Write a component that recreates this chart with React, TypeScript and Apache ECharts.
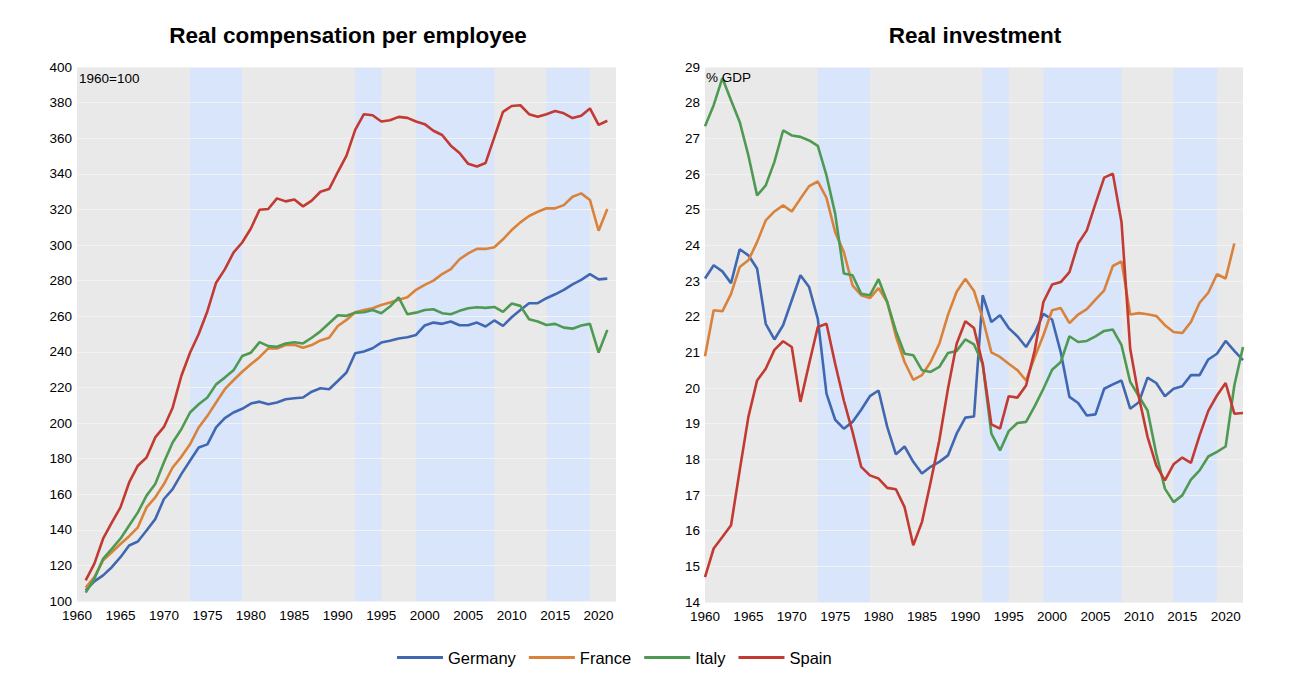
import { useEffect, useRef } from "react";
import * as echarts from "echarts";

// labels and colours
const countries = ["Germany", "France", "Italy", "Spain"];
const colors = ["#4068b2", "#d9823b", "#4f9a52", "#c23a31"];

// shaded periods (years)
const bands = [
    [1973, 1979],
    [1992, 1995],
    [1999, 2008],
    [2014, 2019],
];

// Real compensation per employee, 1960=100, from 1961 to 2021
const compStart = 1961;
const compGermany = [
    106, 111, 114.4, 119, 124.6, 131.2, 133.4, 139.6, 146, 157.3, 162.9, 171.3, 178.8, 186.2, 188, 197.5,
    202.7, 205.9, 208, 210.9, 212, 210.5, 211.5, 213.3, 213.9, 214.3, 217.6, 219.5, 219, 223.6, 228.4,
    239.2, 240.2, 242, 245.2, 246.2, 247.5, 248.2, 249.5, 254.8, 256.4, 255.7, 257, 254.9, 254.9, 256.4,
    254.2, 257.6, 254.6, 259.4, 263.5, 267.3, 267.3, 270.1, 272.3, 274.8, 277.9, 280.4, 283.6, 280.7, 281.1,
];
const compFrance = [
    107.5, 113.4, 122.8, 127.4, 132, 136.4, 141.4, 152.6, 158.2, 165.7, 175, 181, 188, 197.5, 204, 211.5,
    219, 224, 228.8, 233, 237, 241.9, 241.9, 243.8, 244, 242.3, 243.8, 246.4, 247.9, 254.5, 257.9, 262.2,
    263.5, 264.5, 266.3, 267.7, 269.2, 270.6, 274.8, 277.6, 280, 283.7, 286.4, 292, 295.3, 297.8, 297.8,
    298.7, 303.2, 308.4, 312.7, 316.3, 318.7, 320.6, 320.6, 322.4, 327.1, 329, 325.3, 308, 320.2,
];
const compItaly = [
    104.7, 112.5, 123.7, 129.3, 135, 142.4, 149.8, 159.2, 165.7, 177.9, 189, 196.5, 205.9, 210.5, 214.3,
    221.7, 225.5, 229.6, 237.6, 239.5, 245.4, 243.2, 242.8, 244.7, 245.4, 244.7, 247.9, 251.5, 256, 260.5,
    260.2, 262, 262.2, 263.5, 261.7, 265.4, 270.6, 261.1, 262, 263.5, 263.9, 261.7, 261.1, 263, 264.5, 265,
    264.7, 265.2, 262.4, 267.1, 265.8, 258.3, 257, 255.1, 255.7, 253.6, 253, 254.8, 255.7, 239.6, 252.3,
];
const compSpain = [
    111.6, 121, 135, 144, 152.6, 166.6, 176, 180.6, 191.9, 197.8, 208.6, 226.4, 239.5, 250, 262.8, 278.8,
    286.3, 295.7, 301.4, 309.3, 319.8, 320.2, 326.2, 324.5, 325.6, 321.7, 324.9, 329.9, 331.4, 341, 350.2,
    364.7, 373.5, 372.9, 369.4, 370.1, 372, 371.4, 369.4, 367.9, 364.2, 361.8, 355.8, 351.7, 345.6, 344.1,
    346.1, 360.5, 374.8, 378.1, 378.5, 373.5, 372, 373.5, 375.3, 374, 371.3, 372.6, 376.7, 367.5, 369.8,
];

// Real investment, % GDP, from 1960 (France to 2021, others to 2022)
const invStart = 1960;
const invGermany = [
    23.07, 23.44, 23.27, 22.94, 23.89, 23.72, 23.35, 21.8, 21.36, 21.76, 22.46, 23.16, 22.83, 21.94, 19.84,
    19.11, 18.86, 19.05, 19.39, 19.77, 19.93, 18.91, 18.14, 18.36, 17.93, 17.6, 17.79, 17.93, 18.11, 18.72,
    19.17, 19.2, 22.6, 21.85, 22.04, 21.68, 21.45, 21.15, 21.55, 22.08, 21.92, 21.0, 19.75, 19.58, 19.23,
    19.26, 19.98, 20.1, 20.21, 19.42, 19.6, 20.29, 20.14, 19.77, 19.98, 20.05, 20.36, 20.36, 20.8, 20.96,
    21.32, 21.04, 20.78,
];
const invFrance = [
    20.89, 22.18, 22.15, 22.64, 23.39, 23.58, 24.09, 24.7, 24.95, 25.12, 24.95, 25.31, 25.66, 25.79, 25.33,
    24.37, 23.81, 22.88, 22.6, 22.52, 22.8, 22.41, 21.45, 20.73, 20.23, 20.36, 20.73, 21.24, 22.05, 22.7,
    23.06, 22.72, 21.95, 21.0, 20.87, 20.68, 20.5, 20.21, 20.87, 21.48, 22.18, 22.24, 21.82, 22.06, 22.21,
    22.48, 22.74, 23.42, 23.55, 22.06, 22.1, 22.07, 22.02, 21.76, 21.57, 21.54, 21.85, 22.39, 22.67, 23.19,
    23.07, 24.05,
];
const invItaly = [
    27.34, 27.93, 28.69, 28.07, 27.46, 26.52, 25.4, 25.68, 26.34, 27.22, 27.08, 27.04, 26.94, 26.79, 25.96,
    24.89, 23.21, 23.16, 22.64, 22.6, 23.05, 22.41, 21.6, 20.96, 20.92, 20.5, 20.45, 20.59, 20.98, 21.04,
    21.36, 21.22, 20.68, 18.72, 18.25, 18.79, 19.02, 19.05, 19.49, 19.98, 20.51, 20.73, 21.45, 21.29, 21.32,
    21.45, 21.6, 21.64, 21.2, 20.17, 19.77, 19.37, 18.16, 17.18, 16.8, 16.99, 17.43, 17.69, 18.08, 18.21,
    18.36, 20.07, 21.15,
];
const invSpain = [
    14.7, 15.5, 15.82, 16.15, 17.69, 19.19, 20.21, 20.54, 21.07, 21.31, 21.15, 19.61, 20.68, 21.71, 21.8,
    20.68, 19.65, 18.77, 17.79, 17.55, 17.46, 17.2, 17.16, 16.66, 15.59, 16.24, 17.36, 18.53, 19.98, 21.24,
    21.87, 21.68, 20.68, 18.98, 18.86, 19.77, 19.73, 20.07, 21.06, 22.41, 22.9, 22.97, 23.25, 24.05, 24.42,
    25.17, 25.9, 26.01, 24.65, 21.1, 19.75, 18.63, 17.83, 17.41, 17.86, 18.05, 17.9, 18.67, 19.36, 19.79,
    20.14, 19.28, 19.3,
];

const FONT = "Arial, 'Liberation Sans', sans-serif";

const pairs = (start: number, vals: number[]) => vals.map((v, i) => [start + i, v]);

export default function App() {
    const chartRef = useRef<HTMLDivElement>(null);

    useEffect(() => {
        if (!chartRef.current) return;
        const chart = echarts.init(chartRef.current, null, { renderer: "svg" });

        const xAxis = (gridIndex: number) => ({
            type: "value",
            gridIndex,
            min: 1960,
            max: 2022,
            interval: 5,
            axisLine: { show: false },
            axisTick: { show: false },
            splitLine: { show: false },
            axisLabel: {
                color: "#000",
                fontSize: 13.5,
                fontFamily: FONT,
                margin: 7,
                formatter: (v: number) => (v % 5 === 0 ? String(v) : ""),
            },
        });

        const yAxis = (gridIndex: number, min: number, max: number, interval: number) => ({
            type: "value",
            gridIndex,
            min,
            max,
            interval,
            z: 2,
            axisLine: { show: false },
            axisTick: { show: false },
            splitLine: { show: true, lineStyle: { color: "#f2f2f2", width: 1 } },
            axisLabel: { color: "#000", fontSize: 13.5, fontFamily: FONT, margin: 5 },
        });

        const bandSeries = (idx: number) => ({
            name: "bands" + idx,
            type: "line",
            xAxisIndex: idx,
            yAxisIndex: idx,
            data: [],
            z: 1,
            silent: true,
            markArea: {
                silent: true,
                itemStyle: { color: "#d8e5fb" },
                data: bands.map(([a, b]) => [{ xAxis: a }, { xAxis: b }]),
            },
        });

        const lineSeries = (idx: number, start: number, sets: number[][]) =>
            sets.map((vals, i) => ({
                name: countries[i],
                type: "line",
                xAxisIndex: idx,
                yAxisIndex: idx,
                data: pairs(start, vals),
                symbol: "none",
                z: 3,
                lineStyle: { color: colors[i], width: 2.6 },
                itemStyle: { color: colors[i] },
            }));

        const titleStyle = { fontSize: 22.5, fontWeight: "bold", color: "#000", fontFamily: FONT };

        const option = {
            animation: false,
            backgroundColor: "#fff",
            title: [
                { text: "Real compensation per employee", left: 343, top: 19, textAlign: "center", textStyle: titleStyle },
                { text: "Real investment", left: 970, top: 19, textAlign: "center", textStyle: titleStyle },
            ],
            legend: {
                data: countries,
                left: 397,
                top: 649,
                padding: 0,
                icon: "rect",
                itemWidth: 46,
                itemHeight: 3,
                itemGap: 13,
                textStyle: { fontSize: 16.5, color: "#000", fontFamily: FONT },
            },
            grid: [
                { left: 77, top: 67, width: 539, height: 534, show: true, backgroundColor: "#e9e9e9", borderWidth: 0 },
                { left: 705, top: 67, width: 538, height: 535, show: true, backgroundColor: "#e9e9e9", borderWidth: 0 },
            ],
            xAxis: [xAxis(0), xAxis(1)],
            yAxis: [yAxis(0, 100, 400, 20), yAxis(1, 14, 29, 1)],
            graphic: [
                {
                    type: "text",
                    left: 79,
                    top: 71,
                    z: 10,
                    style: { text: "1960=100", fill: "#000", fontSize: 13.5, fontFamily: FONT },
                },
                {
                    type: "text",
                    left: 706,
                    top: 70,
                    z: 10,
                    style: { text: "% GDP", fill: "#000", fontSize: 13.5, fontFamily: FONT },
                },
            ],
            series: [
                bandSeries(0),
                bandSeries(1),
                ...lineSeries(0, compStart, [compGermany, compFrance, compItaly, compSpain]),
                ...lineSeries(1, invStart, [invGermany, invFrance, invItaly, invSpain]),
            ],
        };

        chart.setOption(option);

        return () => {
            chart.dispose();
        };
    }, []);

    return (
        <div
            ref={chartRef}
            style={{ position: "fixed", left: 0, top: 0, width: 1290, height: 686 }}
        />
    );
}
